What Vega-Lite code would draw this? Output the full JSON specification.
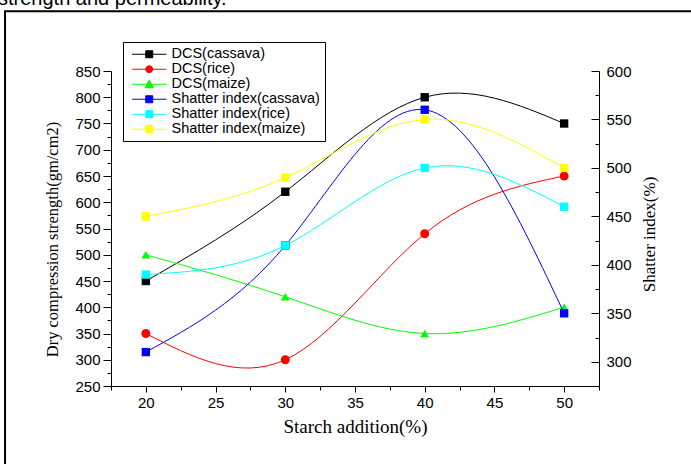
{
  "$schema": "https://vega.github.io/schema/vega-lite/v6.json",
  "width": 488,
  "height": 315,
  "autosize": {"type": "none"},
  "padding": {"left": 111, "top": 71, "right": 92, "bottom": 78},
  "background": "white",
  "title": {
    "text": "strength and permeability.",
    "anchor": "start",
    "frame": "bounds",
    "font": "Liberation Sans",
    "fontSize": 20,
    "fontWeight": "normal",
    "baseline": "alphabetic",
    "offset": 0,
    "dx": -6,
    "dy": 15,
    "color": "black"
  },
  "data": {
    "values": [
      {"x": 20, "series": "DCS(cassava)", "group": "DCS", "v": 450},
      {"x": 30, "series": "DCS(cassava)", "group": "DCS", "v": 620},
      {"x": 40, "series": "DCS(cassava)", "group": "DCS", "v": 800},
      {"x": 50, "series": "DCS(cassava)", "group": "DCS", "v": 750},
      {"x": 20, "series": "DCS(rice)", "group": "DCS", "v": 350},
      {"x": 30, "series": "DCS(rice)", "group": "DCS", "v": 300},
      {"x": 40, "series": "DCS(rice)", "group": "DCS", "v": 540},
      {"x": 50, "series": "DCS(rice)", "group": "DCS", "v": 650},
      {"x": 20, "series": "DCS(maize)", "group": "DCS", "v": 500},
      {"x": 30, "series": "DCS(maize)", "group": "DCS", "v": 420},
      {"x": 40, "series": "DCS(maize)", "group": "DCS", "v": 350},
      {"x": 50, "series": "DCS(maize)", "group": "DCS", "v": 400},
      {"x": 20, "series": "Shatter index(cassava)", "group": "SI", "v": 310},
      {"x": 30, "series": "Shatter index(cassava)", "group": "SI", "v": 420},
      {"x": 40, "series": "Shatter index(cassava)", "group": "SI", "v": 560},
      {"x": 50, "series": "Shatter index(cassava)", "group": "SI", "v": 350},
      {"x": 20, "series": "Shatter index(rice)", "group": "SI", "v": 390},
      {"x": 30, "series": "Shatter index(rice)", "group": "SI", "v": 420},
      {"x": 40, "series": "Shatter index(rice)", "group": "SI", "v": 500},
      {"x": 50, "series": "Shatter index(rice)", "group": "SI", "v": 460},
      {"x": 20, "series": "Shatter index(maize)", "group": "SI", "v": 450},
      {"x": 30, "series": "Shatter index(maize)", "group": "SI", "v": 490},
      {"x": 40, "series": "Shatter index(maize)", "group": "SI", "v": 550},
      {"x": 50, "series": "Shatter index(maize)", "group": "SI", "v": 500}
    ]
  },
  "config": {
    "view": {"stroke": null},
    "axis": {
      "labelFont": "Liberation Sans",
      "labelFontSize": 15,
      "labelColor": "black",
      "titleFont": "Liberation Serif",
      "titleFontWeight": "normal",
      "titleColor": "black",
      "domainColor": "black",
      "tickColor": "black",
      "grid": false,
      "labelFlush": false,
      "labelOverlap": false
    }
  },
  "layer": [
    {
      "data": {"values": [{}]},
      "mark": {"type": "rect", "fillOpacity": 0, "stroke": "black", "strokeWidth": 2},
      "encoding": {
        "x": {"datum": 9.9, "type": "quantitative", "scale": {"domain": [17.5, 52.5], "nice": false, "zero": false}, "axis": null},
        "x2": {"datum": 60},
        "y": {"datum": 964, "type": "quantitative", "scale": {"domain": [250, 850], "nice": false, "zero": false}, "axis": null},
        "y2": {"datum": 50}
      }
    },
    {
      "transform": [{"filter": "datum.group === 'DCS'"}],
      "encoding": {
        "x": {
          "field": "x",
          "type": "quantitative",
          "scale": {"domain": [17.5, 52.5], "nice": false, "zero": false},
          "axis": {
            "orient": "bottom",
            "title": "Starch addition(%)",
            "titleFontSize": 19,
            "titlePadding": 7,
            "values": [20, 25, 30, 35, 40, 45, 50],
            "tickSize": 6,
            "labelPadding": 3
          }
        }
      },
      "layer": [
        {
          "mark": {"type": "line", "interpolate": "natural", "strokeWidth": 1},
          "encoding": {
            "y": {
              "field": "v",
              "type": "quantitative",
              "scale": {"domain": [250, 850], "nice": false, "zero": false},
              "axis": {
                "orient": "left",
                "title": "Dry compression strength(gm/cm2)",
                "titleFontSize": 16.5,
                "titlePadding": 14,
                "titleY": 168,
                "values": [250, 300, 350, 400, 450, 500, 550, 600, 650, 700, 750, 800, 850],
                "tickSize": 8,
                "labelPadding": 3
              }
            },
            "stroke": {
              "field": "series",
              "type": "nominal",
              "scale": {
                "domain": ["DCS(cassava)", "DCS(rice)", "DCS(maize)", "Shatter index(cassava)", "Shatter index(rice)", "Shatter index(maize)"],
                "range": ["#000000", "#FF0000", "#00FF00", "#0000FF", "#00FFFF", "#FFFF00"]
              }
            }
          }
        },
        {
          "mark": {"type": "point", "filled": true, "opacity": 1, "size": 70, "shape": "square"},
          "transform": [{"filter": "datum.series === 'DCS(cassava)'"}],
          "encoding": {
            "y": {
              "field": "v",
              "type": "quantitative",
              "axis": {
                "orient": "left",
                "title": null,
                "values": [275, 325, 375, 425, 475, 525, 575, 625, 675, 725, 775, 825],
                "labels": false,
                "domain": false,
                "tickSize": 4
              }
            },
            "fill": {
              "field": "series",
              "type": "nominal",
              "scale": {
                "domain": ["DCS(cassava)", "DCS(rice)", "DCS(maize)", "Shatter index(cassava)", "Shatter index(rice)", "Shatter index(maize)"],
                "range": ["#000000", "#FF0000", "#00FF00", "#0000FF", "#00FFFF", "#FFFF00"]
              },
              "legend": {
                "title": null,
                "orient": "none",
                "legendX": 12,
                "legendY": -29,
                "padding": 5,
                "strokeColor": "black",
                "fillColor": "white",
                "labelFont": "Liberation Sans",
                "labelFontSize": 14.5,
                "labelColor": "black",
                "labelLimit": 400,
                "symbolSize": 49,
                "symbolStrokeWidth": 1,
                "symbolOffset": 14,
                "labelOffset": 15,
                "rowPadding": 0
              }
            }
          }
        },
        {
          "mark": {"type": "point", "filled": true, "opacity": 1, "size": 80, "shape": "circle"},
          "transform": [{"filter": "datum.series === 'DCS(rice)'"}],
          "encoding": {
            "y": {"field": "v", "type": "quantitative", "axis": null},
            "fill": {"field": "series", "type": "nominal"}
          }
        },
        {
          "mark": {"type": "point", "filled": true, "opacity": 1, "size": 80, "shape": "triangle-up"},
          "transform": [{"filter": "datum.series === 'DCS(maize)'"}],
          "encoding": {
            "y": {"field": "v", "type": "quantitative", "axis": null},
            "fill": {"field": "series", "type": "nominal"}
          }
        },
        {
          "mark": {"type": "point", "filled": true, "opacity": 1},
          "transform": [{"filter": "false"}],
          "encoding": {
            "y": {"field": "v", "type": "quantitative", "axis": null},
            "fill": {"field": "series", "type": "nominal"},
            "stroke": {"field": "series", "type": "nominal"},
            "shape": {
              "field": "series",
              "type": "nominal",
              "scale": {
                "domain": ["DCS(cassava)", "DCS(rice)", "DCS(maize)", "Shatter index(cassava)", "Shatter index(rice)", "Shatter index(maize)"],
                "range": [
                  "M-4.9,0H4.9M-1,-1H1V1H-1Z",
                  "M-4.9,0H4.9M1,0A1,1,0,1,1,-1,0A1,1,0,1,1,1,0Z",
                  "M-4.9,0H4.9M0,-1.15L1.25,1H-1.25Z",
                  "M-4.9,0H4.9M-1,-1H1V1H-1Z",
                  "M-4.9,0H4.9M-1,-1H1V1H-1Z",
                  "M-4.9,0H4.9M-1,-1H1V1H-1Z"
                ]
              }
            }
          }
        }
      ],
      "resolve": {"axis": {"y": "independent"}}
    },
    {
      "transform": [{"filter": "datum.group === 'SI'"}],
      "encoding": {
        "x": {
          "field": "x",
          "type": "quantitative",
          "axis": {
            "orient": "bottom",
            "title": null,
            "values": [17.5, 22.5, 27.5, 32.5, 37.5, 42.5, 47.5, 52.5],
            "labels": false,
            "domain": false,
            "tickSize": 4
          }
        }
      },
      "layer": [
        {
          "mark": {"type": "line", "interpolate": "natural", "strokeWidth": 1},
          "encoding": {
            "y": {
              "field": "v",
              "type": "quantitative",
              "scale": {"domain": [275, 600], "nice": false, "zero": false},
              "axis": {
                "orient": "right",
                "title": "Shatter index(%)",
                "titleFontSize": 17,
                "titleAngle": 270,
                "titleBaseline": "top",
                "titlePadding": 10,
                "titleY": 163,
                "values": [300, 350, 400, 450, 500, 550, 600],
                "tickSize": -8,
                "labelPadding": 15
              }
            },
            "stroke": {"field": "series", "type": "nominal"}
          }
        },
        {
          "mark": {"type": "point", "filled": true, "opacity": 1, "size": 70, "shape": "square"},
          "encoding": {
            "y": {
              "field": "v",
              "type": "quantitative",
              "axis": {
                "orient": "right",
                "title": null,
                "values": [275, 325, 375, 425, 475, 525, 575],
                "labels": false,
                "domain": false,
                "tickSize": -4
              }
            },
            "fill": {"field": "series", "type": "nominal"}
          }
        }
      ],
      "resolve": {"axis": {"y": "independent"}}
    }
  ],
  "resolve": {"scale": {"y": "independent"}, "axis": {"x": "independent"}}
}
